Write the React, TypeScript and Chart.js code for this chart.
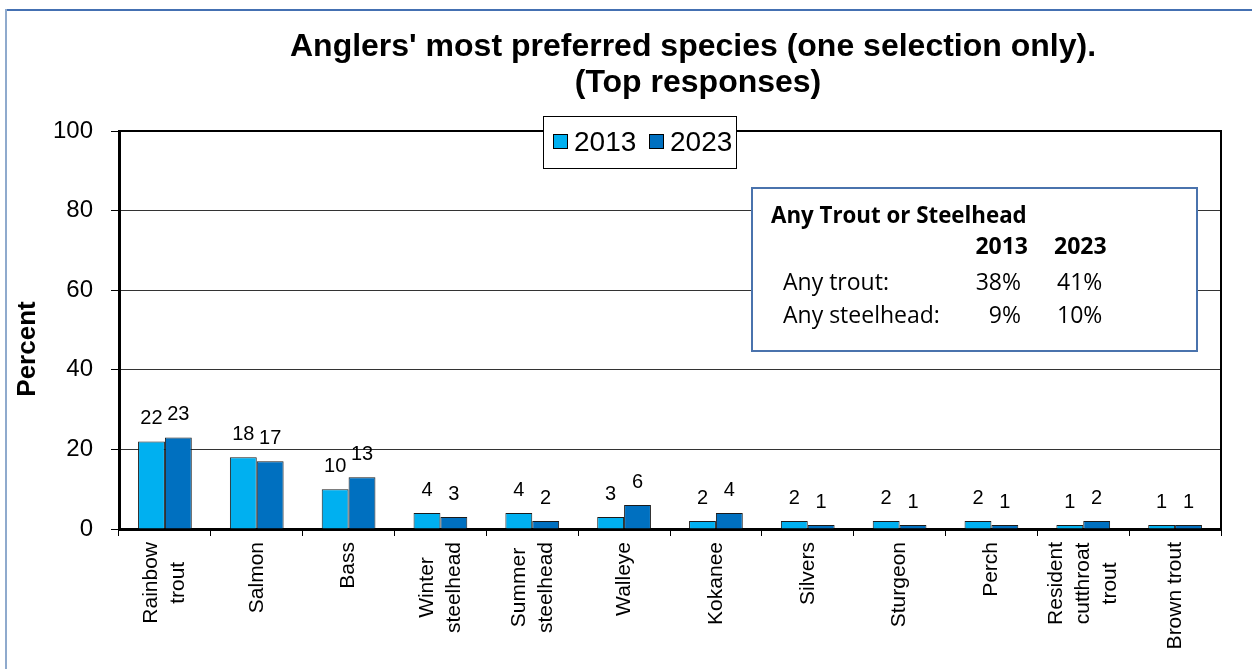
import React, { useEffect, useRef } from "react";
import { Chart, registerables } from "chart.js";

Chart.register(...registerables);

// ---------- data ----------
const categories: (string | string[])[] = [
  ["Rainbow", "trout"],
  "Salmon",
  "Bass",
  ["Winter", "steelhead"],
  ["Summer", "steelhead"],
  "Walleye",
  "Kokanee",
  "Silvers",
  "Sturgeon",
  "Perch",
  ["Resident", "cutthroat", "trout"],
  "Brown trout",
];
const seriesLabels = ["2013", "2023"];
const values2013 = [22, 18, 10, 4, 4, 3, 2, 2, 2, 2, 1, 1];
const values2023 = [23, 17, 13, 3, 2, 6, 4, 1, 1, 1, 2, 1];
const yTicks = [0, 20, 40, 60, 80, 100];
const titleLines = ["Anglers' most preferred species (one selection only).", "(Top responses)"];
const yTitle = "Percent";
const insetTitle = "Any Trout or Steelhead";
const insetYears = ["2013", "2023"];
const insetRows = ["Any trout:", "Any steelhead:"];
const inset2013 = ["38%", "9%"];
const inset2023 = ["41%", "10%"];

// ---------- styles ----------
const COLORS = ["#00B0F0", "#0070C0"];
const SANS = "'Liberation Sans', Arial, sans-serif";
const INSET_FONT = "'Open Sans', 'Noto Sans', sans-serif";

const overlayPlugin = {
  id: "overlay",
  beforeDraw(chart: any) {
    const ctx = chart.ctx;
    ctx.save();
    ctx.fillStyle = "#ffffff";
    ctx.fillRect(0, 0, chart.width, chart.height);
    // outer frame (top + left only visible)
    ctx.fillStyle = "#4470B2";
    ctx.fillRect(6, 9, chart.width - 6, 2);
    ctx.fillStyle = "#8FAACD";
    ctx.fillRect(5, 9, 2, chart.height - 9);
    ctx.restore();
  },
  afterDatasetsDraw(chart: any) {
    const ctx = chart.ctx;
    ctx.save();
    ctx.font = `20px ${SANS}`;
    ctx.fillStyle = "#000";
    ctx.textAlign = "center";
    ctx.textBaseline = "middle";
    chart.data.datasets.forEach((ds: any, i: number) => {
      const meta = chart.getDatasetMeta(i);
      meta.data.forEach((el: any, j: number) => {
        ctx.fillText(String(ds.data[j]), el.x, el.y - 22.5);
      });
    });
    ctx.restore();
  },
  afterDraw(chart: any) {
    const ctx = chart.ctx;
    const ca = chart.chartArea;
    ctx.save();

    // plot border top & right
    ctx.strokeStyle = "#000";
    ctx.lineWidth = 2;
    ctx.beginPath();
    ctx.moveTo(ca.left, ca.top);
    ctx.lineTo(ca.right, ca.top);
    ctx.lineTo(ca.right, ca.bottom);
    ctx.stroke();

    // x labels (rotated, multi-line, lines centred on each other)
    const xs = chart.scales.x;
    ctx.font = `21px ${SANS}`;
    ctx.fillStyle = "#000";
    ctx.textAlign = "center";
    ctx.textBaseline = "middle";
    const lh = 27;
    categories.forEach((c, i) => {
      const lines = Array.isArray(c) ? c : [c];
      const px = xs.getPixelForValue(i);
      const maxW = Math.max(...lines.map((ln) => ctx.measureText(ln).width));
      lines.forEach((ln, k) => {
        const cx = px + (k - (lines.length - 1) / 2) * lh;
        ctx.save();
        ctx.translate(cx, ca.bottom + 13);
        ctx.rotate(-Math.PI / 2);
        ctx.fillText(ln, -maxW / 2, 0);
        ctx.restore();
      });
    });

    // y title
    ctx.save();
    ctx.font = `bold 26px ${SANS}`;
    ctx.textAlign = "center";
    ctx.textBaseline = "middle";
    ctx.translate(28, 349);
    ctx.rotate(-Math.PI / 2);
    ctx.fillText(yTitle, 0, 0);
    ctx.restore();

    // main title
    ctx.font = `bold 32px ${SANS}`;
    ctx.textAlign = "center";
    ctx.textBaseline = "alphabetic";
    ctx.fillText(titleLines[0], 693, 56);
    ctx.fillText(titleLines[1], 698, 92);

    // legend
    ctx.fillStyle = "#fff";
    ctx.fillRect(543, 116, 193, 52);
    ctx.strokeStyle = "#000";
    ctx.lineWidth = 1;
    ctx.strokeRect(543.5, 116.5, 193, 52);
    const legendX = [553, 649];
    ctx.font = `28px ${SANS}`;
    ctx.textAlign = "left";
    seriesLabels.forEach((s, i) => {
      ctx.fillStyle = COLORS[i];
      ctx.fillRect(legendX[i], 134, 15, 15);
      ctx.strokeStyle = "#000";
      ctx.strokeRect(legendX[i] + 0.5, 134.5, 14, 14);
      ctx.fillStyle = "#000";
      ctx.fillText(s, legendX[i] + 21, 151);
    });

    // inset box
    ctx.fillStyle = "#fff";
    ctx.fillRect(752, 188, 445, 163);
    ctx.strokeStyle = "#4A73AD";
    ctx.lineWidth = 2;
    ctx.strokeRect(752, 188, 445, 163);
    ctx.fillStyle = "#000";
    ctx.textBaseline = "alphabetic";
    ctx.font = `bold 22.3px ${INSET_FONT}`;
    ctx.textAlign = "left";
    ctx.fillText(insetTitle, 771, 223);
    ctx.font = `bold 23px ${INSET_FONT}`;
    ctx.textAlign = "right";
    ctx.fillText(insetYears[0], 1028, 254);
    ctx.textAlign = "left";
    ctx.fillText(insetYears[1], 1054, 254);
    ctx.font = `23px ${INSET_FONT}`;
    const rowY = [290, 323];
    insetRows.forEach((r, i) => {
      ctx.textAlign = "left";
      ctx.fillText(r, 783, rowY[i]);
      ctx.textAlign = "right";
      ctx.fillText(inset2013[i], 1021, rowY[i]);
      ctx.textAlign = "left";
      ctx.fillText(inset2023[i], 1057, rowY[i]);
    });

    ctx.restore();
  },
};

export default function App() {
  const ref = useRef<HTMLCanvasElement | null>(null);

  useEffect(() => {
    if (!ref.current) return;
    const chart = new Chart(ref.current, {
      type: "bar",
      data: {
        labels: categories.map((c) => (Array.isArray(c) ? c.join(" ") : c)),
        datasets: [
          {
            label: seriesLabels[0],
            data: values2013,
            backgroundColor: COLORS[0],
            borderColor: "#1a1a1a",
            borderWidth: 1,
            categoryPercentage: 0.585,
            barPercentage: 1.0,
          },
          {
            label: seriesLabels[1],
            data: values2023,
            backgroundColor: COLORS[1],
            borderColor: "#1a1a1a",
            borderWidth: 1,
            categoryPercentage: 0.585,
            barPercentage: 1.0,
          },
        ],
      },
      options: {
        responsive: false,
        animation: false,
        devicePixelRatio: 1,
        layout: { padding: { top: 131, right: 31, bottom: 0, left: 0 } },
        plugins: {
          legend: { display: false },
          title: { display: false },
          tooltip: { enabled: false },
        },
        scales: {
          x: {
            type: "category",
            offset: true,
            grid: {
              offset: true,
              drawOnChartArea: false,
              drawTicks: true,
              tickLength: 7,
              tickColor: "#000",
              tickWidth: 1,
            },
            border: { display: true, color: "#000", width: 3 },
            ticks: { display: false },
            afterFit: (scale: any) => {
              scale.height = 140;
            },
          },
          y: {
            min: 0,
            max: 100,
            afterBuildTicks: (scale: any) => {
              scale.ticks = yTicks.map((v) => ({ value: v }));
            },
            grid: {
              color: "#333",
              lineWidth: 1,
              drawTicks: true,
              tickLength: 8,
              tickColor: "#000",
            },
            border: { display: true, color: "#000", width: 3 },
            ticks: {
              color: "#000",
              font: { family: SANS, size: 24 },
              padding: 18,
            },
            afterFit: (scale: any) => {
              scale.width = 119;
            },
          },
        },
      },
      plugins: [overlayPlugin],
    } as any);
    return () => chart.destroy();
  }, []);

  return (
    <div style={{ position: "absolute", left: 0, top: 0, width: 1252, height: 669 }}>
      <canvas ref={ref} width={1252} height={669} style={{ width: 1252, height: 669, display: "block" }} />
    </div>
  );
}
